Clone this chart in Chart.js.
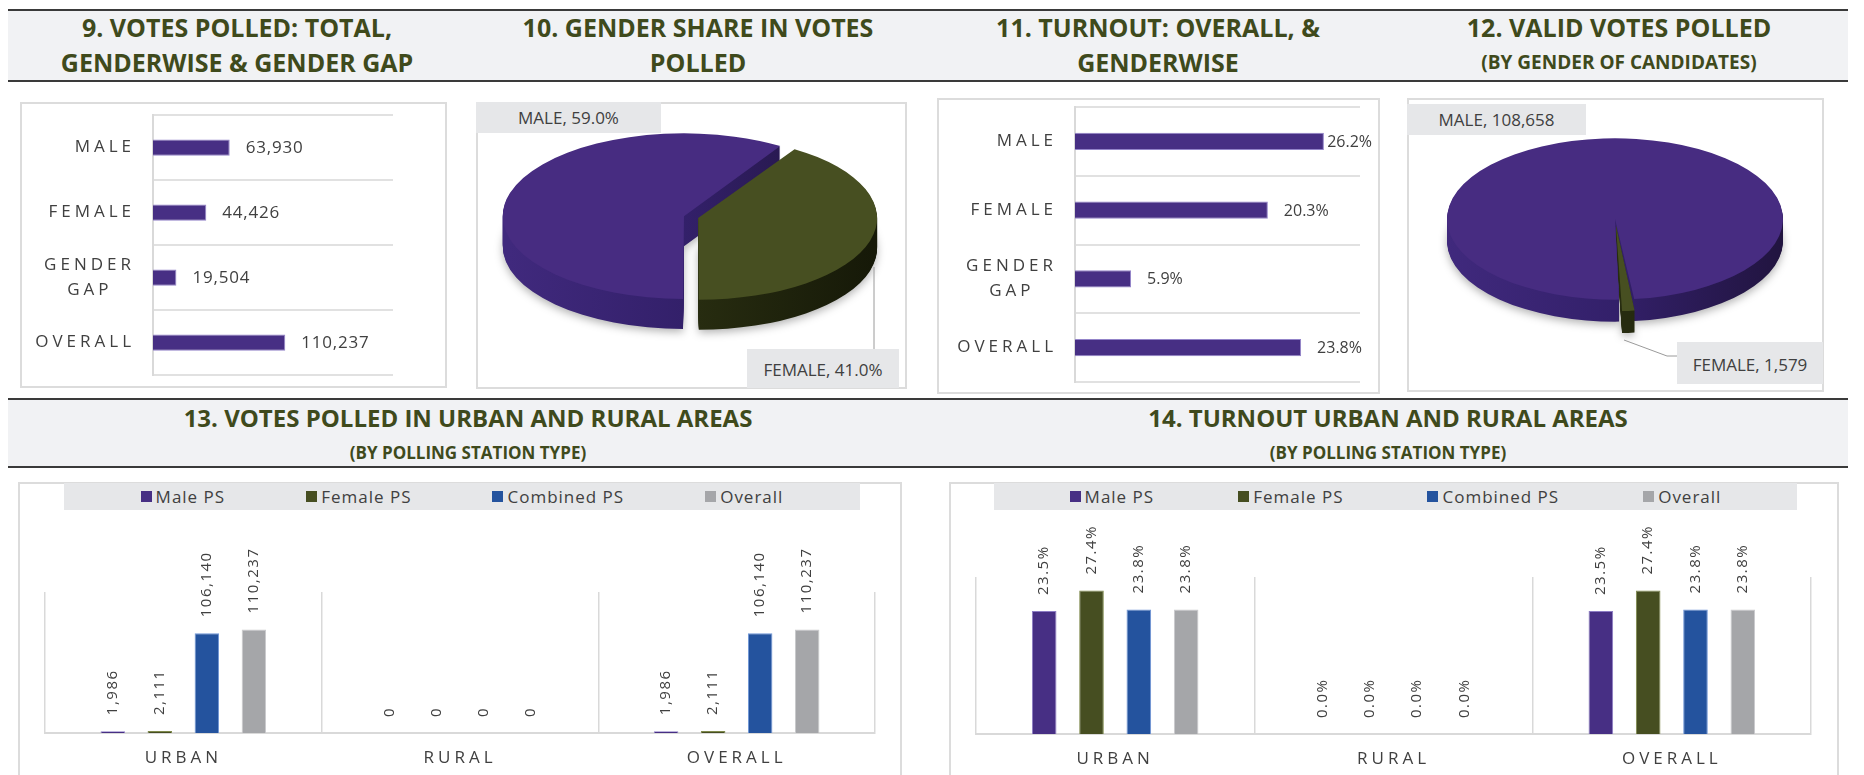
<!DOCTYPE html>
<html lang="en">
<head>
<meta charset="utf-8">
<title>Votes polled and turnout</title>
<script src="https://cdn.jsdelivr.net/npm/chart.js@4.4.1/dist/chart.umd.min.js"></script>
<style>
  html, body { margin: 0; padding: 0; background: #fff; }
  body { position: relative; width: 1864px; height: 775px; overflow: hidden; font-family: "Open Sans", sans-serif; color: #404040; }
  .band { position: absolute; left: 8px; width: 1840px; box-sizing: border-box; background: #f1f2f4; border-top: 2px solid #3a3a3a; border-bottom: 2px solid #3a3a3a; }
  .title { position: absolute; transform: translateX(-50%); text-align: center; white-space: nowrap; color: #3f4a1c; font-weight: 700; line-height: 35px; }
  .title small { display: block; font-size: 19px; }
  .box { position: absolute; box-sizing: border-box; border: 2px solid #dcdcdc; }
  canvas { position: absolute; }
  .tag { position: absolute; background: #e6e7e9; font-size: 17px; text-align: center; white-space: nowrap; }
  .legend { position: absolute; height: 27px; background: #e6e7e9; display: flex; justify-content: center; align-items: center; font-size: 17px; letter-spacing: 1px; }
  .legend span { display: flex; align-items: center; white-space: nowrap; }
  .legend i { display: inline-block; width: 11px; height: 11px; margin-right: 4px; }
  svg { position: absolute; left: 0; top: 0; pointer-events: none; }
</style>
</head>
<body>
<div class="band" style="top:9px;height:73px"></div>
<div class="band" style="top:398px;height:70px"></div>

<div class="title" style="left:237px;top:10px;font-size:25px">9. VOTES POLLED: TOTAL,<br>GENDERWISE &amp; GENDER GAP</div>
<div class="title" style="left:698px;top:10px;font-size:25px">10. GENDER SHARE IN VOTES<br>POLLED</div>
<div class="title" style="left:1158px;top:10px;font-size:25px">11. TURNOUT: OVERALL, &amp;<br>GENDERWISE</div>
<div class="title" style="left:1619px;top:10px;font-size:25px">12. VALID VOTES POLLED<small>(BY GENDER OF CANDIDATES)</small></div>
<div class="title" style="left:468px;top:400px;font-size:24px">13. VOTES POLLED IN URBAN AND RURAL AREAS<small style="font-size:17px">(BY POLLING STATION TYPE)</small></div>
<div class="title" style="left:1388px;top:400px;font-size:24px">14. TURNOUT URBAN AND RURAL AREAS<small style="font-size:17px">(BY POLLING STATION TYPE)</small></div>

<div class="box" style="left:20px;top:102px;width:427px;height:286px"></div>
<div class="box" style="left:476px;top:102px;width:431px;height:287px"></div>
<div class="box" style="left:937px;top:98px;width:443px;height:296px"></div>
<div class="box" style="left:1407px;top:98px;width:417px;height:294px"></div>
<div class="box" style="left:18px;top:482px;width:884px;height:300px"></div>
<div class="box" style="left:949px;top:482px;width:890px;height:300px"></div>

<canvas id="c9" width="427" height="286" style="left:20px;top:102px"></canvas>
<canvas id="c10" width="431" height="286" style="left:476px;top:102px"></canvas>
<canvas id="c11" width="443" height="296" style="left:937px;top:98px"></canvas>
<canvas id="c12" width="417" height="294" style="left:1407px;top:98px"></canvas>
<canvas id="c13" width="884" height="293" style="left:18px;top:482px"></canvas>
<canvas id="c14" width="890" height="293" style="left:949px;top:482px"></canvas>

<div class="legend" id="lg13" style="left:64px;top:483px;width:796px;gap:81px"></div>
<div class="legend" id="lg14" style="left:994px;top:483px;width:803px;gap:84px"></div>

<div class="tag" id="t10m" style="left:476px;top:102px;width:185px;height:31px;line-height:31px"></div>
<div class="tag" id="t10f" style="left:747px;top:349px;width:152px;height:39px;line-height:41px"></div>
<div class="tag" id="t12m" style="left:1407px;top:104px;width:179px;height:31px;line-height:32px"></div>
<div class="tag" id="t12f" style="left:1677px;top:342px;width:146px;height:42px;line-height:45px"></div>

<svg width="1864" height="775">
  <line x1="874" y1="267" x2="874" y2="349" stroke="#9a9a9a" stroke-width="1"/>
  <polyline points="1624,340 1667,356 1677,356" fill="none" stroke="#9a9a9a" stroke-width="1"/>
</svg>

<script>
// 9 & 11: gender rows
const genderCats = ['MALE', 'FEMALE', ['GENDER', 'GAP  \u200a'], 'OVERALL'];
const votesPolled = [63930, 44426, 19504, 110237];
const turnout = [26.2, 20.3, 5.9, 23.8];

// 10: gender share in votes polled (%)
const shareLabels = ['MALE', 'FEMALE'];
const shareValues = [59.0, 41.0];

// 12: valid votes by gender of candidates
const candidateLabels = ['MALE', 'FEMALE'];
const candidateVotes = [108658, 1579];

// 13 & 14: by polling station type
const areaCats = ['URBAN', 'RURAL', 'OVERALL'];
const psNames = ['Male PS', 'Female PS', 'Combined PS', 'Overall'];
const areaVotesMale = [1986, 0, 1986];
const areaVotesFemale = [2111, 0, 2111];
const areaVotesCombined = [106140, 0, 106140];
const areaVotesOverall = [110237, 0, 110237];
const areaTurnMale = [23.5, 0.0, 23.5];
const areaTurnFemale = [27.4, 0.0, 27.4];
const areaTurnCombined = [23.8, 0.0, 23.8];
const areaTurnOverall = [23.8, 0.0, 23.8];

const PURPLE = '#472f84', OLIVE = '#464e21', BLUE = '#24539e', GREY = '#a5a6a9';
const psColors = [PURPLE, OLIVE, BLUE, GREY];
const psEdges = ['#8c7cc4', '#7f8a4c', '#6f95d6', '#c9cacc'];
const PIE_SIDES = [['#40297d', '#33206a', '#21143f'], ['#353c18', '#272c10', '#161908']];

const fmt = {
  int: (v) => v.toLocaleString('en-US'),
  pct: (v) => v.toFixed(1) + '%',
};

// letter spacing for axis labels (canvas letterSpacing)
const tickSpacing = {
  id: 'tickSpacing',
  beforeDraw(chart, args, opts) { chart.ctx.letterSpacing = opts.ticks || '0px'; },
};

// value labels at the end of horizontal bars, pulled in when they would run off the box
const barEndLabels = {
  id: 'barEndLabels',
  afterDatasetsDraw(chart, args, opts) {
    const { ctx } = chart;
    const data = chart.data.datasets[0].data;
    ctx.save();
    ctx.font = opts.font;
    ctx.letterSpacing = opts.spacing;
    ctx.fillStyle = '#404040';
    ctx.textBaseline = 'middle';
    chart.getDatasetMeta(0).data.forEach((bar, i) => {
      const txt = fmt[opts.kind](data[i]);
      const w = ctx.measureText(txt).width;
      ctx.fillText(txt, Math.max(bar.x + 3, Math.min(bar.x + opts.gap, chart.width - opts.edge - w)), bar.y + 1);
    });
    ctx.restore();
  },
};

// rotated value labels above vertical bars
const barTopLabels = {
  id: 'barTopLabels',
  afterDatasetsDraw(chart, args, opts) {
    const { ctx } = chart;
    ctx.save();
    ctx.font = '15px "Open Sans"';
    ctx.letterSpacing = '1.5px';
    ctx.fillStyle = '#404040';
    ctx.textBaseline = 'middle';
    chart.data.datasets.forEach((ds, d) => {
      chart.getDatasetMeta(d).data.forEach((bar, i) => {
        ctx.save();
        ctx.translate(bar.x, bar.y - opts.gap);
        ctx.rotate(-Math.PI / 2);
        ctx.fillText(fmt[opts.kind](ds.data[i]), 0, 0);
        ctx.restore();
      });
    });
    ctx.restore();
  },
};

// tilt the pie and extrude it downwards
const pie3d = {
  id: 'pie3d',
  beforeDatasetsDraw(chart, args, o) {
    const { ctx } = chart;
    const arcs = chart.getDatasetMeta(0).data;
    const cx = arcs[0].x, cy = arcs[0].y, r = arcs[0].outerRadius;
    ctx.save();
    for (let i = o.depth; i >= 1; i--) {
      ctx.save();
      ctx.translate(cx, cy + i); ctx.scale(1, o.tilt); ctx.translate(-cx, -cy);
      if (i === o.depth) {
        ctx.shadowColor = 'rgba(0,0,0,0.3)'; ctx.shadowBlur = 9; ctx.shadowOffsetY = 3;
      }
      arcs.forEach((arc, j) => {
        const g = ctx.createLinearGradient(cx - r, 0, cx + r, 0);
        const stops = o.sides[j];
        stops.forEach((c, k) => g.addColorStop(k / (stops.length - 1), c));
        const orig = arc.options;
        arc.options = Object.assign({}, orig, { backgroundColor: g, borderWidth: 0 });
        arc.draw(ctx);
        arc.options = orig;
      });
      ctx.restore();
    }
    ctx.translate(cx, cy); ctx.scale(1, o.tilt); ctx.translate(-cx, -cy);
  },
  afterDatasetsDraw(chart) { chart.ctx.restore(); },
};

const base = { responsive: false, animation: false, events: [] };

function hbar(id, values, max, labelOpts, pad, axisW) {
  return new Chart(document.getElementById(id), {
    type: 'bar',
    data: {
      labels: genderCats,
      datasets: [{ data: values, backgroundColor: PURPLE, borderColor: '#9384c9', borderWidth: 1,
        categoryPercentage: 1, barPercentage: 0.25 }],
    },
    options: {
      ...base,
      indexAxis: 'y',
      layout: { padding: pad },
      plugins: {
        legend: { display: false }, tooltip: { enabled: false },
        tickSpacing: { ticks: '4px' },
        barEndLabels: labelOpts,
      },
      scales: {
        x: { display: false, min: 0, max },
        y: {
          grid: { offset: true, drawTicks: false, color: '#e1e1e1', lineWidth: 2 },
          border: { color: '#d9d9d9', width: 2 },
          ticks: { color: '#404040', padding: 18, font: { family: 'Open Sans', size: 17, lineHeight: 1.5 } },
          afterFit: (s) => { s.width = axisW; s.paddingTop = 0; s.paddingBottom = 0; },
        },
      },
    },
    plugins: [tickSpacing, barEndLabels],
  });
}

function pie(id, labels, values, ds, pad, depth, tilt) {
  return new Chart(document.getElementById(id), {
    type: 'pie',
    data: {
      labels,
      datasets: [{ data: values, backgroundColor: ['#472c81', '#474f21'], borderWidth: 0, clip: false, ...ds }],
    },
    options: {
      ...base,
      layout: { padding: pad },
      plugins: { legend: { display: false }, tooltip: { enabled: false }, pie3d: { depth, tilt, sides: PIE_SIDES } },
    },
    plugins: [pie3d],
  });
}

function groupedBars(id, series, max, kind, pad, axisH) {
  return new Chart(document.getElementById(id), {
    type: 'bar',
    data: {
      labels: areaCats,
      datasets: series.map((d, i) => ({
        label: psNames[i], data: d, backgroundColor: psColors[i], borderColor: psEdges[i], borderWidth: 1,
        categoryPercentage: 0.68, barPercentage: 0.52,
      })),
    },
    options: {
      ...base,
      layout: { padding: pad },
      plugins: {
        legend: { display: false }, tooltip: { enabled: false },
        tickSpacing: { ticks: '4px' },
        barTopLabels: { kind, gap: 16 },
      },
      scales: {
        x: {
          grid: { offset: true, drawTicks: false, color: '#d9d9d9', lineWidth: 1.5 },
          border: { color: '#d9d9d9', width: 2 },
          ticks: { color: '#404040', padding: 15, font: { family: 'Open Sans', size: 17 } },
          afterFit: (s) => { s.height = axisH; s.paddingLeft = 0; s.paddingRight = 0; },
        },
        y: { display: false, min: 0, max },
      },
    },
    plugins: [tickSpacing, barTopLabels],
  });
}

function legend(id) {
  document.getElementById(id).innerHTML = psNames
    .map((n, i) => `<span><i style="background:${psColors[i]}"></i>${n}</span>`).join('');
}

hbar('c9', votesPolled, 200000, { kind: 'int', font: '17px "Open Sans"', spacing: '0.8px', gap: 16, edge: 10 },
  { top: 13, bottom: 13, right: 54 }, 133);
hbar('c11', turnout, 30, { kind: 'pct', font: '16px "Open Sans"', spacing: '0px', gap: 16, edge: 8 },
  { top: 9, bottom: 12, right: 20 }, 138);

pie('c10', shareLabels, shareValues, { offset: [25, 34], radius: 175, rotation: 180 },
  { right: 3, bottom: 56 }, 30, 0.457);
pie('c12', candidateLabels, candidateVotes, { offset: [0, 50], radius: 168, rotation: 178.6 },
  { right: 1, bottom: 52 }, 22, 0.48);

groupedBars('c13', [areaVotesMale, areaVotesFemale, areaVotesCombined, areaVotesOverall], 150000, 'int',
  { left: 27, right: 27, top: 110 }, 42);
groupedBars('c14', [areaTurnMale, areaTurnFemale, areaTurnCombined, areaTurnOverall], 30, 'pct',
  { left: 27, right: 28, top: 95 }, 41);

legend('lg13');
legend('lg14');

document.getElementById('t10m').textContent = `${shareLabels[0]}, ${fmt.pct(shareValues[0])}`;
document.getElementById('t10f').textContent = `${shareLabels[1]}, ${fmt.pct(shareValues[1])}`;
document.getElementById('t12m').textContent = `${candidateLabels[0]}, ${fmt.int(candidateVotes[0])}`;
document.getElementById('t12f').textContent = `${candidateLabels[1]}, ${fmt.int(candidateVotes[1])}`;
</script>
</body>
</html>
